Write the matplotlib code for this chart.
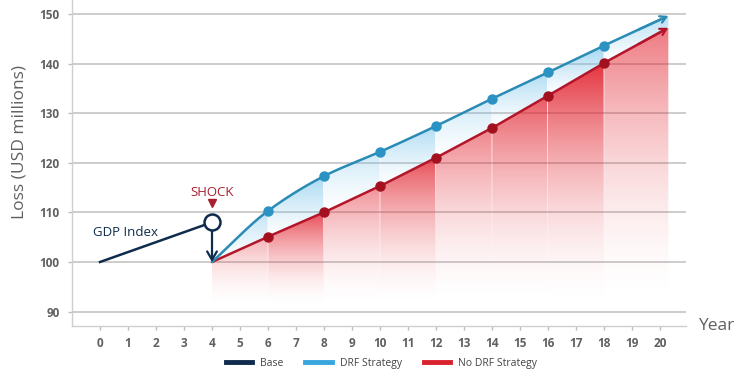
import numpy as np
import matplotlib
matplotlib.use("Agg")
import matplotlib.pyplot as plt
from matplotlib.patches import Polygon
from matplotlib.lines import Line2D

plt.rcParams['font.family'] = ['Open Sans', 'DejaVu Sans']

# ---- data ---------------------------------------------------------------
base_years = [0, 4]
base_values = [100, 108]

years = [4, 6, 8, 10, 12, 14, 16, 18, 20.3]
drf_values = [100, 110.3, 117.3, 122.2, 127.4, 132.9, 138.2, 143.6, 149.6]
nodrf_values = [100, 105.1, 110.0, 115.3, 121.0, 127.0, 133.5, 140.1, 147.2]

x_ticks = list(range(0, 21))
y_ticks = [90, 100, 110, 120, 130, 140, 150]

# shading strength of each two-year column
red_strength = [0.35, 0.8, 0.5, 0.8, 0.55, 0.75, 0.92, 0.6]
blue_strength = [0.45, 0.6, 0.35, 0.55, 0.35, 0.55, 0.65, 0.5]

NAVY = '#0f2c4c'
BLUE_LINE = '#2a8bb5'
BLUE_MARK = '#2b93c4'
BLUE_FILL = (0.45, 0.76, 0.92)
RED_LINE = '#b3162a'
RED_MARK = '#a3111f'
RED_FILL = (0.89, 0.13, 0.18)
GREY = '#606060'


def pchip(x, y, xs):
    """Shape-preserving cubic Hermite curve through (x, y), evaluated at xs."""
    x = np.asarray(x, float)
    y = np.asarray(y, float)
    h = np.diff(x)
    d = np.diff(y) / h
    m = np.zeros_like(y)
    for k in range(1, len(x) - 1):
        if d[k - 1] * d[k] > 0:
            w1 = 2 * h[k] + h[k - 1]
            w2 = h[k] + 2 * h[k - 1]
            m[k] = (w1 + w2) / (w1 / d[k - 1] + w2 / d[k])
    m[0] = d[0]
    m[-1] = d[-1]
    out = np.empty_like(xs, dtype=float)
    for i, xv in enumerate(xs):
        k = min(np.searchsorted(x, xv, side='right') - 1, len(x) - 2)
        k = max(k, 0)
        t = (xv - x[k]) / h[k]
        h00 = 2 * t**3 - 3 * t**2 + 1
        h10 = t**3 - 2 * t**2 + t
        h01 = -2 * t**3 + 3 * t**2
        h11 = t**3 - t**2
        out[i] = h00 * y[k] + h10 * h[k] * m[k] + h01 * y[k + 1] + h11 * h[k] * m[k + 1]
    return out


fig = plt.figure(figsize=(7.38, 3.71), dpi=100)
ax = fig.add_axes([0.0976, 0.1213, 0.8319, 0.8787])
ax.set_xlim(-1, 20.93)
ax.set_ylim(87.1, 152.8)

# grid and axes styling
ax.set_axisbelow(True)
ax.yaxis.grid(True, color='#c4c4c4', lw=1.2, zorder=0)
for side in ('top', 'right'):
    ax.spines[side].set_visible(False)
for side in ('left', 'bottom'):
    ax.spines[side].set_color('#cfcfcf')
    ax.spines[side].set_linewidth(1.0)
ax.set_xticks(x_ticks)
ax.set_yticks(y_ticks)
ax.tick_params(axis='both', colors='#bdbdbd', length=3, width=1,
               labelcolor=GREY, labelsize=8.5)
for lab in ax.get_xticklabels() + ax.get_yticklabels():
    lab.set_fontweight('bold')
ax.tick_params(axis='x', pad=5)
ax.tick_params(axis='y', pad=6)
ax.set_ylabel('Loss (USD millions)', fontsize=12.5, color=GREY, labelpad=6)
ax.yaxis.set_label_coords(-0.072, 0.565)
ax.text(1.02, 0.0, 'Year', transform=ax.transAxes, fontsize=12.5,
        color=GREY, va='center', ha='left')

# smooth outline of the DRF strategy path
xs = np.linspace(years[0], years[-1], 600)
drf_curve = pchip(years, drf_values, xs)
nodrf_curve = np.interp(xs, years, nodrf_values)

fill_floor = 90.8

# red gradient columns under the No-DRF line
for i in range(len(years) - 1):
    x0, x1 = years[i], years[i + 1]
    sel = (xs >= x0) & (xs <= x1)
    cx = xs[sel]
    cy = nodrf_curve[sel]
    verts = list(zip(cx, cy)) + [(x1, fill_floor), (x0, fill_floor)]
    clip = Polygon(verts, closed=True, facecolor='none', edgecolor='none')
    ax.add_patch(clip)
    top = cy.max()
    yy = np.linspace(top, fill_floor, 200)[:, None]
    t = (yy - fill_floor) / (top - fill_floor)
    rgba = np.zeros((200, 2, 4))
    rgba[..., :3] = RED_FILL
    rgba[..., 3] = (red_strength[i] * np.clip(t, 0, 1) ** 1.8)[:, :1].repeat(2, 1)
    im = ax.imshow(rgba, extent=[x0, x1, fill_floor, top], origin='upper',
                   aspect='auto', interpolation='bilinear', zorder=1)
    im.set_clip_path(clip)

# blue gradient band between the two strategies
for i in range(len(years) - 1):
    x0, x1 = years[i], years[i + 1]
    sel = (xs >= x0) & (xs <= x1)
    cx = xs[sel]
    up = drf_curve[sel]
    lo = nodrf_curve[sel]
    verts = list(zip(cx, up)) + list(zip(cx[::-1], lo[::-1]))
    clip = Polygon(verts, closed=True, facecolor='none', edgecolor='none')
    ax.add_patch(clip)
    top, bot = up.max(), lo.min()
    yy = np.linspace(top, bot, 200)[:, None]
    t = (yy - bot) / (top - bot)
    rgba = np.zeros((200, 2, 4))
    rgba[..., :3] = BLUE_FILL
    rgba[..., 3] = (blue_strength[i] * np.clip(t, 0, 1) ** 1.2)[:, :1].repeat(2, 1)
    im = ax.imshow(rgba, extent=[x0, x1, bot, top], origin='upper',
                   aspect='auto', interpolation='bilinear', zorder=2)
    im.set_clip_path(clip)

ax.set_xlim(-1, 20.93)
ax.set_ylim(87.1, 152.8)

# strategy lines with arrow tips
ax.plot(xs[:-8], nodrf_curve[:-8], color=RED_LINE, lw=1.8, zorder=4,
        solid_capstyle='round')
ax.plot(xs[:-8], drf_curve[:-8], color=BLUE_LINE, lw=1.8, zorder=4,
        solid_capstyle='round')
for curve, col in ((nodrf_curve, RED_LINE), (drf_curve, BLUE_LINE)):
    ax.annotate('', xy=(xs[-1], curve[-1]), xytext=(xs[-40], curve[-40]),
                arrowprops=dict(arrowstyle='->,head_length=0.45,head_width=0.25',
                                color=col, lw=1.6, shrinkA=0, shrinkB=0),
                zorder=5)
ax.plot(years[1:-1], nodrf_values[1:-1], 'o', color=RED_MARK, ms=6.5, zorder=6)
ax.plot(years[1:-1], drf_values[1:-1], 'o', color=BLUE_MARK, ms=6.5, zorder=6)

# GDP index before the shock
ax.plot(base_years, base_values, color=NAVY, lw=1.8, zorder=5)
ax.annotate('', xy=(base_years[-1], nodrf_values[0]),
            xytext=(base_years[-1], base_values[-1]),
            arrowprops=dict(arrowstyle='->,head_length=0.6,head_width=0.35',
                            color=NAVY, lw=1.6, shrinkA=0, shrinkB=0),
            zorder=5)
ax.plot([base_years[-1]], [base_values[-1]], 'o', ms=11.5, mfc='white',
        mec=NAVY, mew=1.8, zorder=7)
ax.text(-0.25, 106.0, 'GDP Index', color=NAVY, fontsize=9.5,
        va='center', ha='left', zorder=7)
ax.text(4, 114.0, 'SHOCK', color='#a8202f', fontsize=9.5,
        va='center', ha='center', zorder=7)
ax.plot([4], [111.9], 'v', color='#a8202f', ms=5.5, zorder=7)

# legend
handles = [Line2D([], [], color=NAVY, lw=3.5),
           Line2D([], [], color='#3aa6de', lw=3.5),
           Line2D([], [], color='#d8222e', lw=3.5)]
fig.legend(handles, ['Base', 'DRF Strategy', 'No DRF Strategy'],
           loc='center', bbox_to_anchor=(0.517, 0.02), ncol=3, frameon=False,
           fontsize=7.5, handlelength=2.5, columnspacing=2.1, handletextpad=0.8,
           labelcolor='#444444')

fig.savefig('out.png', dpi=100)
